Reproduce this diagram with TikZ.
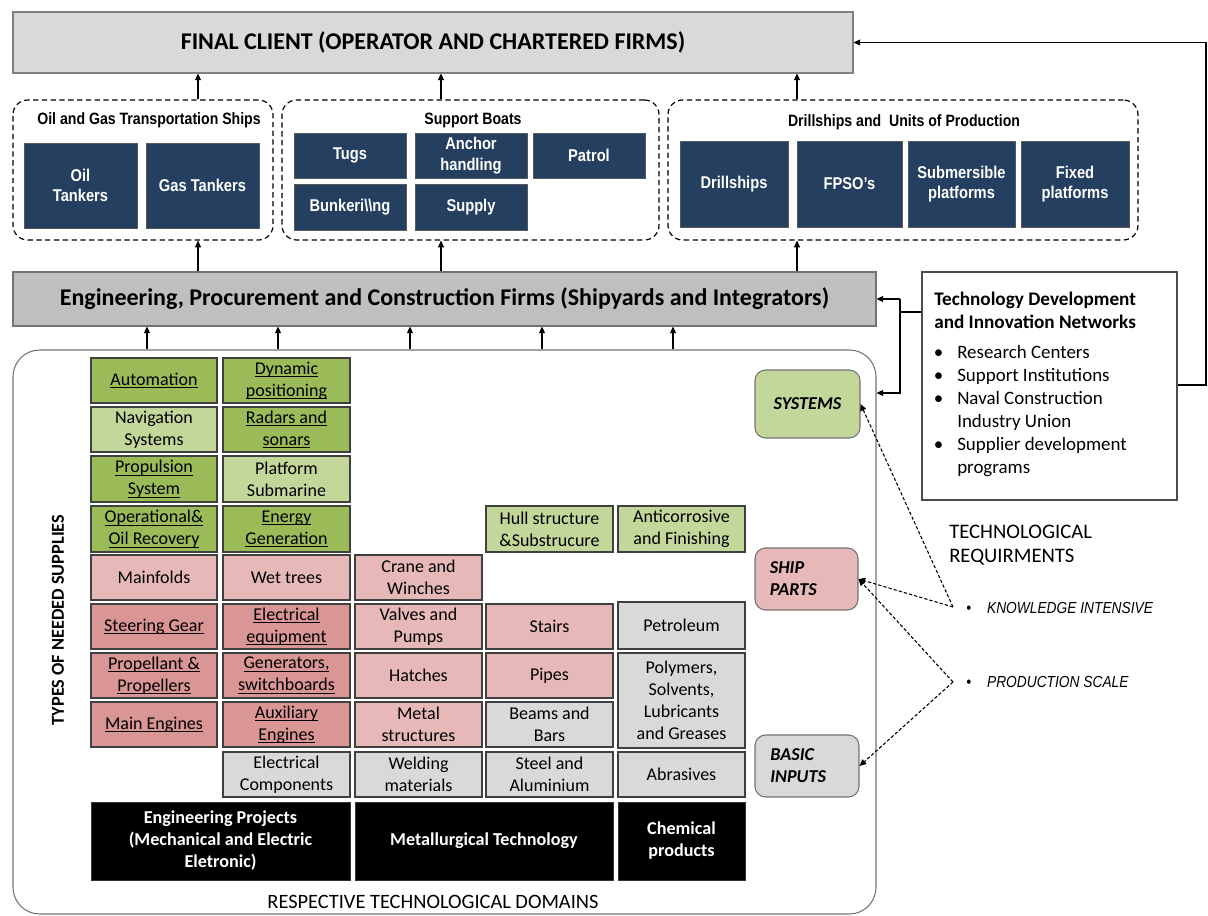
\documentclass[tikz,border=0pt]{standalone}
\usepackage{fontspec}
\setmainfont{Carlito}
\newfontfamily\arialn[FakeStretch=0.86]{Liberation Sans}
\usetikzlibrary{arrows.meta}

\definecolor{navy}{HTML}{243F60}
\definecolor{gdark}{HTML}{9BBB59}
\definecolor{glight}{HTML}{C4D79B}
\definecolor{pdark}{HTML}{DA9694}
\definecolor{plight}{HTML}{E6B9B8}
\definecolor{gcell}{HTML}{D9D9D9}
\definecolor{epcfill}{HTML}{BFBFBF}

% underline each line at a fixed depth
\newcommand\undl[1]{\leavevmode\setbox0\hbox{#1}\rlap{\rule[-2.2pt]{\wd0}{0.6pt}}\box0}

% \boxat{name}{x1}{y1}{x2}{y2}{style}{text}: a node filling the given rectangle
\newcommand\boxat[7]{%
  \pgfmathsetmacro\boxw{(#4-#2)*0.75}%
  \pgfmathsetmacro\boxh{(#5-#3)*0.75}%
  \node[#6, minimum width=\boxw pt, minimum height=\boxh pt] (#1) at ({(#2+#4)/2},{(#3+#5)/2}) {#7};}

\begin{document}
\begin{tikzpicture}[x=0.75pt,y=-0.75pt,
  arr/.style={-{Triangle[length=5pt,width=4.5pt]}, line width=0.9pt},
  darr/.style={-{Triangle[length=5pt,width=4.5pt]}, line width=0.8pt, dash pattern=on 2.5pt off 1.5pt},
  headbox/.style={fill=gcell, draw=black!50, line width=0.8pt, inner sep=0pt,
    font=\bfseries\fontsize{18}{20}\selectfont},
  epcbox/.style={fill=epcfill, draw=black!55, line width=0.8pt, inner sep=0pt,
    font=\bfseries\fontsize{18}{20}\selectfont},
  group/.style={draw, line width=0.9pt, dash pattern=on 4pt off 2.6pt, rounded corners=11pt},
  grouptitle/.style={font=\arialn\bfseries\fontsize{12.3}{14}\selectfont, inner sep=0pt},
  navybox/.style={fill=navy, draw=black!65, line width=0.6pt, text=white, align=center, inner sep=1pt,
    font=\arialn\bfseries\fontsize{12.8}{15.5}\selectfont},
  cell/.style={draw=black!75, line width=0.8pt, align=center, inner sep=1pt,
    font=\fontsize{13.5}{16.5}\selectfont},
  gd/.style={cell, fill=gdark}, gl/.style={cell, fill=glight},
  pd/.style={cell, fill=pdark}, pl/.style={cell, fill=plight},
  gy/.style={cell, fill=gcell},
  blk/.style={fill=black, draw=black!80, text=white, align=center, inner sep=1pt,
    font=\bfseries\fontsize{13.6}{16.5}\selectfont},
  level/.style={draw=black!55, line width=0.8pt, rounded corners=8pt, align=left,
    inner ysep=0pt, inner xsep=11pt, text width=55pt,
    font=\bfseries\itshape\fontsize{13.6}{16.5}\selectfont},
  techbox/.style={draw=black!70, line width=0.8pt, fill=white},
  plain/.style={inner sep=0pt, align=left},
]
\useasboundingbox (0,0) rectangle (1208,916);

% ---------- final client ----------
\boxat{fc}{13}{12}{853}{73}{headbox}{FINAL CLIENT (OPERATOR AND CHARTERED FIRMS)}

% ---------- vessel groups ----------
\boxat{g1}{13}{100}{273}{240}{group}{}
\boxat{g2}{282}{100}{659}{240}{group}{}
\boxat{g3}{668}{100}{1138}{240}{group}{}
\node[grouptitle] (t1) at (149,120) {Oil and Gas Transportation Ships};
\node[grouptitle] (t2) at (473,120) {Support Boats};
\node[grouptitle] (t3) at (904,122) {Drillships and \ Units of Production};

\boxat{oilt}{24}{143}{137}{228}{navybox}{Oil\\Tankers}
\boxat{gast}{146}{143}{259}{228}{navybox}{Gas Tankers}

\boxat{tugs}{294}{133}{406}{178}{navybox}{Tugs}
\boxat{anch}{415}{133}{527}{178}{navybox}{Anchor\\handling}
\boxat{patr}{533}{133}{645}{178}{navybox}{Patrol}
\boxat{bunk}{294}{184}{406}{230}{navybox}{Bunkeri\textbackslash\textbackslash ng}
\boxat{supp}{415}{184}{527}{230}{navybox}{Supply}

\boxat{drill}{680}{141}{788}{227}{navybox}{Drillships}
\boxat{fpso}{797}{141}{902}{227}{navybox}{FPSO’s}
\boxat{subm}{908}{141}{1015}{227}{navybox}{Submersible\\platforms}
\boxat{fixd}{1021}{141}{1129}{227}{navybox}{Fixed\\platforms}

% ---------- EPC firms ----------
\boxat{epc}{13}{272}{876}{326}{epcbox}{Engineering, Procurement and Construction Firms (Shipyards and Integrators)}

% ---------- supplies frame ----------
\boxat{sup}{13}{350}{876}{914}{draw=black!55, line width=0.8pt, rounded corners=20pt}{}

% column positions for the arrows
\coordinate (xa) at (198,0);
\coordinate (xb) at (441,0);
\coordinate (xc) at (797,0);
\draw[arr] (g1.north -| xa) -- (fc.south -| xa);
\draw[arr] (g2.north -| xb) -- (fc.south -| xb);
\draw[arr] (g3.north -| xc) -- (fc.south -| xc);
\draw[arr] (epc.north -| xa) -- (g1.south -| xa);
\draw[arr] (epc.north -| xb) -- (g2.south -| xb);
\draw[arr] (epc.north -| xc) -- (g3.south -| xc);
\foreach \i/\xx in {1/147,2/278,3/410,4/542,5/673}{
  \coordinate (xs\i) at (\xx,0);
  \draw[arr] (sup.north -| xs\i) -- (epc.south -| xs\i);
}

% ---------- supply cells ----------
% row 1
\boxat{c11}{91}{358}{217}{403}{gd}{\undl{Automation}}
\boxat{c12}{223}{358}{350}{403}{gd}{\undl{Dynamic}\\\undl{positioning}}
% row 2
\boxat{c21}{91}{407}{217}{452}{gl}{Navigation\\Systems}
\boxat{c22}{223}{407}{350}{452}{gd}{\undl{Radars and}\\\undl{sonars}}
% row 3
\boxat{c31}{91}{456}{217}{502}{gd}{\undl{Propulsion}\\\undl{System}}
\boxat{c32}{223}{456}{350}{502}{gl}{Platform\\Submarine}
% row 4
\boxat{c41}{91}{506}{217}{552}{gd}{\undl{Operational\&}\\\undl{Oil Recovery}}
\boxat{c42}{223}{506}{350}{552}{gd}{\undl{Energy}\\\undl{Generation}}
\boxat{c44}{486}{506}{613}{552}{gl}{Hull structure\\\&Substrucure}
\boxat{c45}{618}{506}{745}{552}{gl}{Anticorrosive\\and Finishing}
% row 5
\boxat{c51}{91}{555}{217}{600}{pl}{Mainfolds}
\boxat{c52}{223}{555}{350}{600}{pl}{Wet trees}
\boxat{c53}{355}{555}{482}{600}{pl}{Crane and\\Winches}
% row 6
\boxat{c61}{91}{604}{217}{649}{pd}{\undl{Steering Gear}}
\boxat{c62}{223}{604}{350}{649}{pd}{\undl{Electrical}\\\undl{equipment}}
\boxat{c63}{355}{604}{482}{649}{pl}{Valves and\\Pumps}
\boxat{c64}{486}{604}{613}{649}{pl}{Stairs}
\boxat{c65}{618}{602}{745}{649}{gy}{Petroleum}
% row 7
\boxat{c71}{91}{653}{217}{698}{pd}{\undl{Propellant \&}\\\undl{Propellers}}
\boxat{c72}{223}{653}{350}{698}{pd}{\undl{Generators,}\\\undl{switchboards}}
\boxat{c73}{355}{653}{482}{698}{pl}{Hatches}
\boxat{c74}{486}{653}{613}{698}{pl}{Pipes}
\boxat{c75}{618}{653}{745}{748}{gy}{Polymers,\\Solvents,\\Lubricants\\and Greases}
% row 8
\boxat{c81}{91}{702}{217}{747}{pd}{\undl{Main Engines}}
\boxat{c82}{223}{702}{350}{747}{pd}{\undl{Auxiliary}\\\undl{Engines}}
\boxat{c83}{355}{702}{482}{747}{pl}{Metal\\structures}
\boxat{c84}{486}{702}{613}{747}{gy}{Beams and\\Bars}
% row 9
\boxat{c92}{223}{752}{350}{797}{gy}{Electrical\\Components}
\boxat{c93}{355}{752}{482}{797}{gy}{Welding\\materials}
\boxat{c94}{486}{752}{613}{797}{gy}{Steel and\\Aluminium}
\boxat{c95}{618}{752}{745}{797}{gy}{Abrasives}

% ---------- technological domains ----------
\boxat{d1}{91}{802}{350}{880}{blk}{Engineering Projects\\(Mechanical and Electric\\Eletronic)}
\boxat{d2}{355}{802}{613}{880}{blk}{Metallurgical Technology}
\boxat{d3}{618}{802}{745}{880}{blk}{Chemical\\products}

\node[plain, font=\fontsize{15.3}{17}\selectfont] (dom) at (433,902) {RESPECTIVE TECHNOLOGICAL DOMAINS};
\node[plain, rotate=90, font=\bfseries\fontsize{13.7}{15}\selectfont] (types) at (58,620) {TYPES OF NEEDED SUPPLIES};

% ---------- supply levels ----------
\boxat{sys}{755}{370}{860}{438}{level, fill=glight, align=center}{SYSTEMS}
\boxat{sp}{755}{548}{858}{610}{level, fill=plight}{SHIP\\PARTS}
\boxat{bi}{755}{735}{859}{797}{level, fill=gcell}{BASIC\\INPUTS}

% ---------- technology networks ----------
\boxat{tech}{922}{272}{1177}{500}{techbox}{}
\node[plain, anchor=north west, font=\bfseries\fontsize{14.4}{17.3}\selectfont] (techt) at (934,292)
  {Technology Development\\and Innovation Networks};
\node[plain, anchor=north west, font=\fontsize{14.2}{17.2}\selectfont] (techl) at (931,345)
  {\makebox[19.5pt][l]{\hspace{2pt}•}Research Centers\\
   \makebox[19.5pt][l]{\hspace{2pt}•}Support Institutions\\
   \makebox[19.5pt][l]{\hspace{2pt}•}Naval Construction\\
   \makebox[19.5pt][l]{}Industry Union\\
   \makebox[19.5pt][l]{\hspace{2pt}•}Supplier development\\
   \makebox[19.5pt][l]{}programs};

\coordinate (xr) at (900,0);
\coordinate (yt) at (0,312);
\coordinate (ye) at (0,299);
\coordinate (ys) at (0,393);
\draw[line width=0.9pt] (tech.west |- yt) -- (xr |- yt);
\draw[arr] (xr |- ye) -- (epc.east |- ye);
\draw[arr] (xr |- ye) -- (xr |- ys) -- (sup.east |- ys);

\coordinate (xf) at (1206,0);
\coordinate (yl) at (0,385);
\draw[arr] (tech.east |- yl) -- (xf |- yl) -- (xf |- fc.east) -- (fc.east);

% ---------- technological requirements ----------
\node[plain, anchor=west, font=\fontsize{15.5}{18}\selectfont] (treq) at (949,545) {TECHNOLOGICAL\\REQUIRMENTS};
\coordinate (kn) at (953,607);
\coordinate (ps) at (953,682);
\node[plain, anchor=west, font=\arialn\itshape\fontsize{12}{14}\selectfont] (knt) at (966,608) {•\hspace{12pt}KNOWLEDGE INTENSIVE};
\node[plain, anchor=west, font=\arialn\itshape\fontsize{12}{14}\selectfont] (pst) at (966,682) {•\hspace{12pt}PRODUCTION SCALE};
\draw[darr] (kn) -- (sys.east);
\draw[darr] (kn) -- (sp.east);
\draw[darr] (ps) -- (sp.east);
\draw[darr] (ps) -- (bi.east);
\end{tikzpicture}
\end{document}
